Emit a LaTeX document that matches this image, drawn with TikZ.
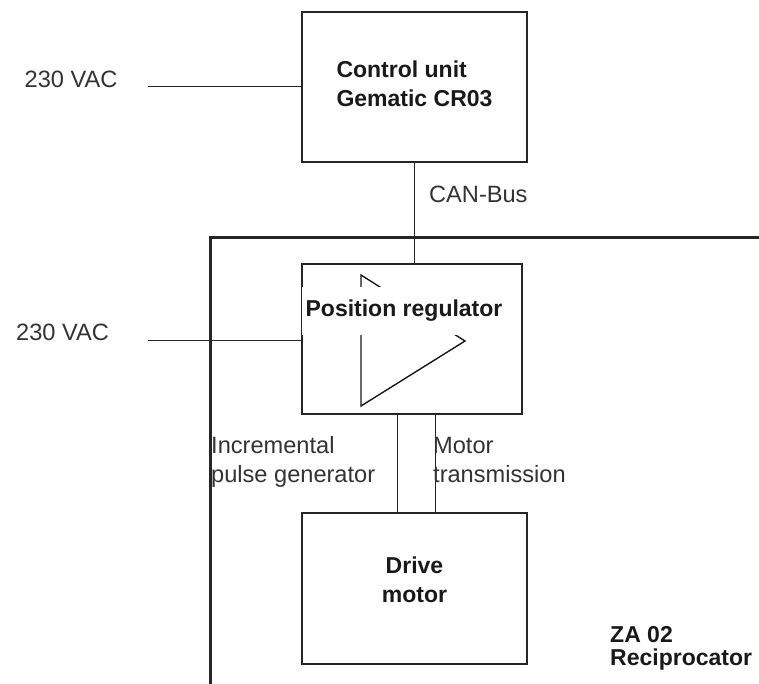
\documentclass[tikz,border=0pt]{standalone}
\usepackage{fontspec}
\setmainfont{Liberation Sans}
\usepackage{xcolor}
\usepackage{tikz}

\newcommand{\plaintext}{\fontsize{23.6}{29}\selectfont}
\newcommand{\boldtext}{\fontsize{23}{29}\selectfont\bfseries}

\begin{document}
\begin{tikzpicture}[x=1pt, y=-1pt,
        unit/.style={draw=black!85, line width=1.4pt, inner sep=0pt},
        wire/.style={draw=black!85, line width=1pt},
        note/.style={inner sep=0pt, text=black!80, font=\plaintext},
        heading/.style={inner sep=0pt, text=black!90, font=\boldtext}]
        \useasboundingbox (0,0) rectangle (759,684);

        % Reciprocator frame.
        \draw[line width=3pt, black!85] (210,690) -- (210,238) -- (765,238);

        % Control unit with mains.
        \node[unit, minimum width=225pt, minimum height=150pt] (ctrl) at (414.5,87) {};
        \node[heading, align=left] (ctrltext) at (414.5,84) {Control unit\\Gematic CR03};
        \node[note, anchor=base] (mainsA) at (71,88) {230 VAC};
        \coordinate (mainsAend) at (148,87);
        \draw[wire] (mainsAend) -- (ctrl.west);

        % Position regulator.
        \node[unit, minimum width=220pt, minimum height=150pt] (reg) at (412,339) {};
        \draw[line width=1.4pt, black!90, line join=miter]
            (361,275) -- (361,406) -- (465,341) -- cycle;
        \node[heading, fill=white, inner xsep=4pt, inner ysep=13pt] (regtext) at (404,311) {Position regulator};
        \node[note, anchor=base] (mainsB) at (62.5,340) {230 VAC};
        \coordinate (mainsBend) at (148,340);
        \draw[wire] (mainsBend) -- (mainsBend -| reg.west);

        % Bus from the control unit.
        \draw[wire] (ctrl.south) -- (ctrl.south |- reg.north);
        \node[note, anchor=base west] (bus) at (429,203) {CAN-Bus};

        % Drive motor and its two cables.
        \node[unit, minimum width=225pt, minimum height=151pt] (motor) at (414.5,588.5) {};
        \node[heading, align=center] (motortext) at (414.5,580) {Drive\\motor};
        \draw[wire] ([xshift=-15pt]reg.south) -- ([xshift=-15pt]reg.south |- motor.north);
        \draw[wire] ([xshift=23pt]reg.south) -- ([xshift=23pt]reg.south |- motor.north);
        \draw (211,453) node[note, anchor=base west] (incA) {Incremental}
            (211,482) node[note, anchor=base west] (incB) {pulse generator}
            (433,453) node[note, anchor=base west] (trA) {Motor}
            (433,482) node[note, anchor=base west] (trB) {transmission};

        % Reciprocator name.
        \draw (610,642) node[heading, anchor=base west] (zaA) {ZA 02}
            (610,665) node[heading, anchor=base west] (zaB) {Reciprocator};
\end{tikzpicture}
\end{document}
